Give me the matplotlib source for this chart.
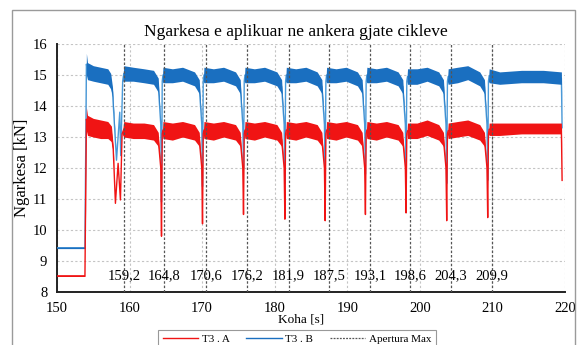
import matplotlib
matplotlib.use("Agg")
import matplotlib.pyplot as plt
from matplotlib.lines import Line2D
from matplotlib.patches import Rectangle

plt.rcParams['font.family'] = ['Liberation Serif', 'DejaVu Serif']

# ---------------- data ----------------
# common time points of cycles 2..11 [s]
t_cycles = [163.3, 163.95, 164.3, 164.4, 164.5,
            164.6, 165.9, 167.3, 168.95, 169.6, 169.95, 170.05, 170.15,
            170.25, 171.55, 172.95, 174.6, 175.25, 175.6, 175.7, 175.8,
            175.9, 177.2, 178.6, 180.3, 180.95, 181.3, 181.4, 181.5,
            181.6, 182.9, 184.3, 185.85, 186.5, 186.85, 186.95, 187.05,
            187.15, 188.45, 189.85, 191.4, 192.05, 192.4, 192.5, 192.6,
            192.7, 194.0, 195.4, 197.0, 197.65, 198.0, 198.1, 198.2,
            198.3, 199.6, 201.0, 202.6, 203.25, 203.6, 203.7, 203.8,
            203.9, 205.2, 206.6, 208.25, 208.9, 209.25, 209.35, 209.45,
            209.55, 211.0, 214.0, 217.0, 219.5, 219.6]

# T3 . B (blue): time [s], lower / upper envelope of the noisy band [kN]
t_b = [150.0, 153.85, 154.05, 154.2, 155.0, 156.0, 157.0, 157.4, 157.65, 158.2, 158.65, 158.78, 159.05,
       159.2, 160.5, 162.0] + t_cycles
b_lo = [9.40, 9.40, 15.0, 14.85, 14.8, 14.75, 14.7, 14.55, 14.3, 12.25, 13.8, 12.4, 14.8,
        14.8, 14.8, 14.75,
        14.7, 14.45, 13.4, 10.9, 14.8,
        14.75, 14.75, 14.8, 14.65, 14.4, 13.4, 11.4, 14.8,
        14.75, 14.75, 14.8, 14.65, 14.4, 13.4, 12.0, 14.8,
        14.75, 14.75, 14.8, 14.65, 14.4, 13.4, 11.5, 14.8,
        14.75, 14.75, 14.8, 14.65, 14.4, 13.4, 11.6, 14.8,
        14.75, 14.75, 14.8, 14.65, 14.4, 13.4, 11.8, 14.8,
        14.75, 14.75, 14.8, 14.65, 14.4, 13.4, 11.7, 14.8,
        14.7, 14.7, 14.8, 14.65, 14.4, 13.4, 11.5, 14.8,
        14.7, 14.75, 14.85, 14.65, 14.4, 13.4, 11.6, 14.8,
        14.75, 14.7, 14.75, 14.75, 14.7, 13.3]
b_hi = [9.45, 9.45, 15.7, 15.4, 15.3, 15.25, 15.2, 15.05, 14.6, 12.25, 13.8, 12.4, 14.8,
        15.3, 15.25, 15.2,
        15.15, 14.9, 13.4, 10.9, 14.8,
        15.25, 15.2, 15.25, 15.1, 14.85, 13.4, 11.4, 14.8,
        15.25, 15.2, 15.25, 15.1, 14.85, 13.4, 12.0, 14.8,
        15.25, 15.2, 15.25, 15.1, 14.85, 13.4, 11.5, 14.8,
        15.25, 15.2, 15.25, 15.1, 14.85, 13.4, 11.6, 14.8,
        15.25, 15.2, 15.25, 15.1, 14.85, 13.4, 11.8, 14.8,
        15.25, 15.2, 15.25, 15.1, 14.85, 13.4, 11.7, 14.8,
        15.2, 15.2, 15.25, 15.1, 14.85, 13.4, 11.5, 14.8,
        15.2, 15.25, 15.3, 15.1, 14.85, 13.4, 11.6, 14.8,
        15.2, 15.1, 15.15, 15.15, 15.1, 13.3]

# T3 . A (red)
t_r = [150.0, 153.85, 154.05, 154.2, 155.0, 156.0, 157.0, 157.5, 157.75, 158.05, 158.42, 158.74, 158.97,
       159.2, 160.5, 162.0] + t_cycles
r_lo = [8.50, 8.50, 13.2, 13.05, 13.0, 12.95, 12.95, 12.85, 12.5, 10.86, 12.15, 10.97, 13.1,
        13.0, 12.95, 12.95,
        12.9, 12.7, 12.0, 9.8, 13.1,
        12.95, 12.9, 13.0, 12.9, 12.7, 12.0, 10.2, 13.1,
        12.95, 12.9, 13.0, 12.9, 12.7, 12.0, 10.5, 13.1,
        12.95, 12.9, 13.0, 12.9, 12.7, 12.0, 10.35, 13.1,
        12.95, 12.9, 13.0, 12.9, 12.7, 12.0, 10.3, 13.1,
        12.95, 12.9, 13.0, 12.9, 12.7, 12.0, 10.5, 13.1,
        12.95, 12.9, 13.0, 12.9, 12.7, 12.0, 10.55, 13.1,
        12.95, 12.95, 13.05, 12.9, 12.7, 12.0, 10.3, 13.1,
        12.95, 13.0, 13.05, 12.9, 12.7, 12.0, 10.4, 13.1,
        13.05, 13.05, 13.1, 13.1, 13.1, 11.6]
r_hi = [8.54, 8.54, 13.95, 13.7, 13.6, 13.55, 13.5, 13.35, 12.7, 10.86, 12.15, 10.97, 13.1,
        13.5, 13.45, 13.45,
        13.4, 13.15, 12.0, 9.8, 13.1,
        13.5, 13.45, 13.5, 13.4, 13.15, 12.0, 10.2, 13.1,
        13.5, 13.45, 13.5, 13.4, 13.15, 12.0, 10.5, 13.1,
        13.5, 13.45, 13.5, 13.4, 13.15, 12.0, 10.35, 13.1,
        13.5, 13.45, 13.5, 13.4, 13.15, 12.0, 10.3, 13.1,
        13.5, 13.45, 13.5, 13.4, 13.15, 12.0, 10.5, 13.1,
        13.5, 13.45, 13.5, 13.4, 13.15, 12.0, 10.55, 13.1,
        13.45, 13.45, 13.55, 13.4, 13.15, 12.0, 10.3, 13.1,
        13.45, 13.5, 13.55, 13.4, 13.15, 12.0, 10.4, 13.1,
        13.45, 13.45, 13.45, 13.45, 13.45, 11.6]

# Apertura Max (vertical dotted markers) and their labels
apertura_t = [159.2, 164.8, 170.6, 176.2, 181.9, 187.5, 193.1, 198.6, 204.3, 209.9]
apertura_lbl = ["159,2", "164,8", "170,6", "176,2", "181,9", "187,5", "193,1", "198,6", "204,3", "209,9"]

BLUE = "#1a6fc0"
RED = "#f01414"
W, H = 587, 345

fig = plt.figure(figsize=(W / 100, H / 100), dpi=100)
ax = fig.add_axes([57 / W, 1 - 292 / H, (565 - 57) / W, (292 - 44) / H])

# chart area frame (excel style)
fig.patches.append(Rectangle((12 / W, -0.05), (575 - 12) / W, 1.05 - 10 / H,
                             transform=fig.transFigure, fill=False,
                             edgecolor="#9a9a9a", lw=1.0))

# grid
ax.set_axisbelow(True)
ax.grid(True, color="#c4c4c4", ls=(0, (2, 2)), lw=0.8)

# bands + thin centre lines (visible in the dips)
b_mid = [(lo + hi) / 2 for lo, hi in zip(b_lo, b_hi)]
r_mid = [(lo + hi) / 2 for lo, hi in zip(r_lo, r_hi)]
ax.plot(t_b, b_mid, color="#4a9ad8", lw=1.0, zorder=3)
ax.fill_between(t_b, b_lo, b_hi, color=BLUE, lw=0, zorder=3)
ax.plot(t_r, r_mid, color=RED, lw=1.0, zorder=4)
ax.fill_between(t_r, r_lo, r_hi, color=RED, lw=0, zorder=4)

for t, lbl in zip(apertura_t, apertura_lbl):
    ax.axvline(t, color="#555555", ls=(0, (2, 1.5)), lw=0.9, zorder=5)
    ax.text(t, 8.53, lbl, ha="center", va="center", fontsize=10.5, zorder=6)

ax.set_xlim(150, 220)
ax.set_ylim(8, 16)
ax.set_xticks(range(150, 221, 10))
ax.set_yticks(range(8, 17))
ax.tick_params(length=0, labelsize=10.5, pad=7)
for s in ("top", "right"):
    ax.spines[s].set_visible(False)
for s in ("left", "bottom"):
    ax.spines[s].set_linewidth(1.4)
    ax.spines[s].set_color("#222222")

fig.text(296 / W, 1 - 32 / H, "Ngarkesa e aplikuar ne ankera gjate cikleve",
         ha="center", va="center", fontsize=12.5)
fig.text(301 / W, 1 - 320 / H, "Koha [s]", ha="center", va="center", fontsize=9.5)
fig.text(22 / W, 1 - 168 / H, "Ngarkesa [kN]", ha="center", va="center",
         rotation=90, fontsize=12)

handles = [Line2D([], [], color=RED, lw=1.0),
           Line2D([], [], color=BLUE, lw=1.0),
           Line2D([], [], color="#555555", lw=0.9, ls=(0, (1.5, 1)))]
leg = fig.legend(handles, ["T3 . A", "T3 . B", "Apertura Max"], ncol=3,
                 loc="upper center", bbox_to_anchor=(297 / W, 1 - 324 / H),
                 fontsize=8, frameon=True, fancybox=False, edgecolor="#808080",
                 handlelength=3.2, borderpad=0.4, columnspacing=1.5, handletextpad=0.3)
leg.get_frame().set_linewidth(0.8)

fig.savefig("out.png", dpi=100)
